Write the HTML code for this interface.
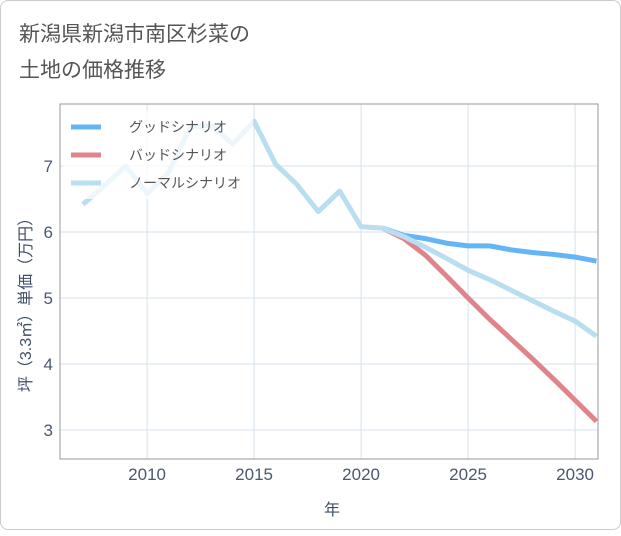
<!DOCTYPE html>
<html><head><meta charset="utf-8"><style>
body{margin:0;background:#fff;font-family:"Liberation Sans","Noto Sans CJK JP",sans-serif}
#card{position:absolute;left:0;top:0;width:619px;height:528px;border:1px solid #ccc;border-radius:8px;background:#fff}
</style></head><body>
<div id="card">
<svg width="621" height="530">
<text x="18" y="40" font-size="21" fill="#555">新潟県新潟市南区杉菜の</text>
<text x="18" y="76" font-size="21" fill="#555">土地の価格推移</text>
<g id="grid"></g>
<rect x="59" y="103" width="538" height="355" fill="none" stroke="#999" stroke-width="1"/>
<g id="lines"></g>
<g id="legend"></g>
<text x="331" y="514" font-size="16" fill="#3f4f66" text-anchor="middle">年</text>
<text transform="translate(30,300) rotate(-90)" font-size="16" fill="#3f4f66" text-anchor="middle">坪（3.3㎡）単価（万円）</text>
</svg></div>
<script>
const years=[2007,2008,2009,2010,2011,2012,2013,2014,2015,2016,2017,2018,2019,2020,2021];
const hist=[6.42,6.7,7.0,6.58,6.9,7.58,7.62,7.33,7.68,7.03,6.72,6.31,6.62,6.08,6.06];
const futYears=[2021,2022,2023,2024,2025,2026,2027,2028,2029,2030,2031];
const good=[6.06,5.95,5.9,5.83,5.79,5.79,5.73,5.69,5.66,5.62,5.56];
const bad=[6.06,5.9,5.65,5.33,5.0,4.68,4.38,4.08,3.77,3.45,3.13];
const normal=[6.06,5.93,5.77,5.6,5.42,5.28,5.12,4.96,4.8,4.65,4.42];
const xTicks=[2010,2015,2020,2025,2030];
const yTicks=[3,4,5,6,7];
const NS="http://www.w3.org/2000/svg";
const X=v=>59+(v-2005.93)*21.4;
const Y=v=>458-(v-2.56)*(355/5.38);
function mk(t,a,p){const e=document.createElementNS(NS,t);for(const k in a)e.setAttribute(k,a[k]);p.appendChild(e);return e;}
const g=document.getElementById('grid');
xTicks.forEach(t=>{
 const l=mk('line',{x1:X(t),x2:X(t),y1:103,y2:458,stroke:'#d5e2ec'},g);
 
 
 const s=mk('text',{x:X(t),y:479,'font-size':17,fill:'#4a5870','text-anchor':'middle'},g);s.textContent=t;
 
 
});
yTicks.forEach(t=>{
 const l=mk('line',{x1:59,x2:597,y1:Y(t),y2:Y(t),stroke:'#d5e2ec'},g);
 
 
 const s=mk('text',{x:52,y:Y(t)+6,'font-size':17,fill:'#4a5870','text-anchor':'end'},g);s.textContent=t;
 
 
});
const L=document.getElementById('lines');
function line(xs,ys,c,name){
 const p=mk('polyline',{points:xs.map((x,i)=>X(x)+','+Y(ys[i])).join(' '),fill:'none',stroke:c,'stroke-width':5,'stroke-linejoin':'round'},L);
 
 
}
line(futYears,good,'#64b5f6','good-scenario-line');
line(futYears,bad,'#e0848c','bad-scenario-line');
line(futYears,normal,'#b9def0','normal-scenario-line');
line(years,hist,'#b9def0','historical-line');
const lg=document.getElementById('legend');
const bg=mk('rect',{x:62,y:110,width:190,height:88,fill:'rgba(255,255,255,0.75)'},lg);


[['グッドシナリオ','#64b5f6'],['バッドシナリオ','#e0848c'],['ノーマルシナリオ','#b9def0']].forEach((d,i)=>{
 const y=126+i*28;
 const l=mk('line',{x1:70,x2:100,y1:y,y2:y,stroke:d[1],'stroke-width':5},lg);
 
 
 const t=mk('text',{x:128,y:y+5,'font-size':14,fill:'#555'},lg);t.textContent=d[0];
 
 
});
</script>
</body></html>
